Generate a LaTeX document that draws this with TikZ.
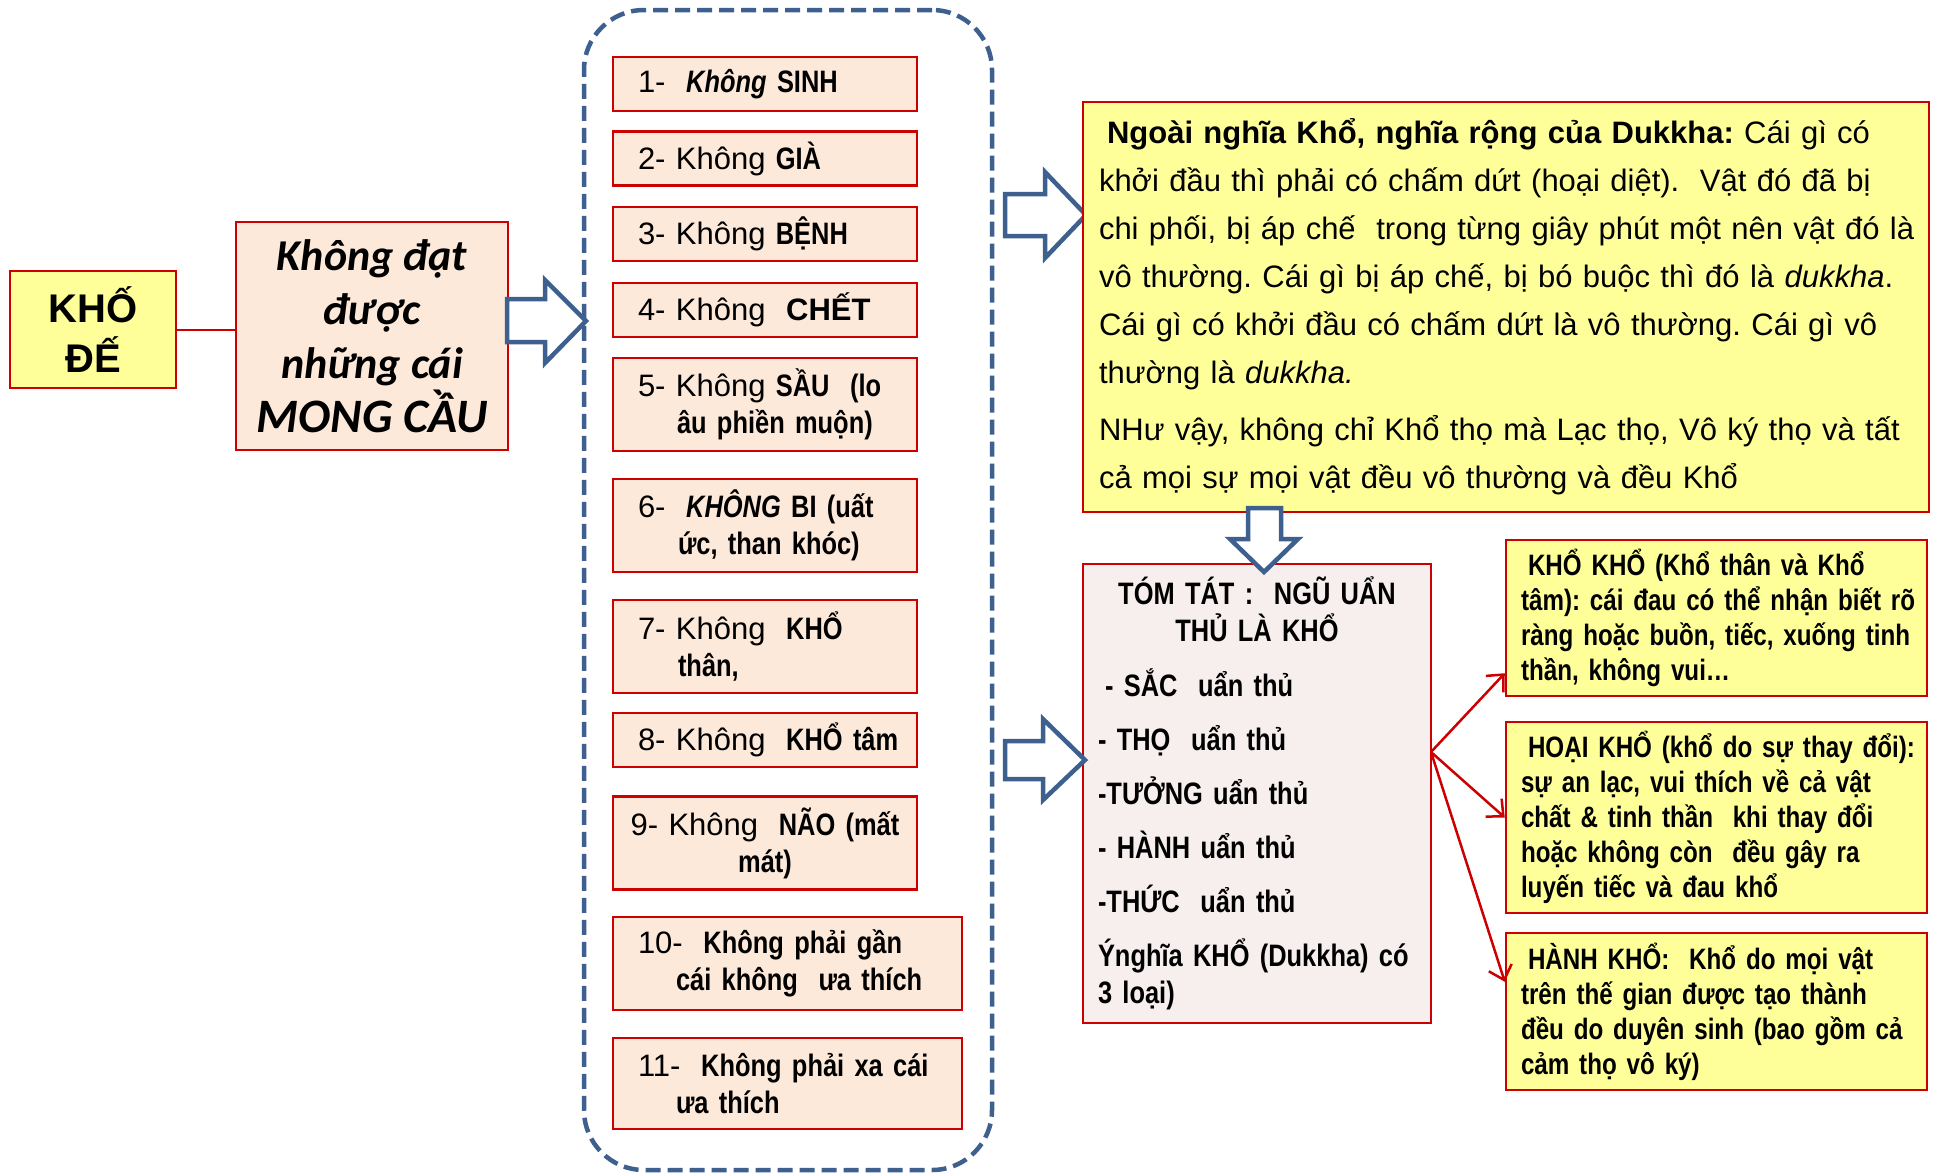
\documentclass[tikz,border=0pt]{standalone}
\usepackage{fontspec}
\setmainfont{Liberation Sans}
\newfontfamily\narrowfont{Liberation Sans}[FakeStretch=0.82]
\newfontfamily\calibrifont{Carlito}
\usetikzlibrary{arrows.meta}
\definecolor{boxred}{RGB}{204,0,0}
\definecolor{peach}{RGB}{253,233,217}
\definecolor{lightyellow}{RGB}{255,255,153}
\definecolor{lightpink}{RGB}{247,238,238}
\definecolor{arrowblue}{RGB}{62,96,143}
\newcommand{\nb}[1]{{\narrowfont\bfseries #1}}
\frenchspacing
\tikzset{
    peachbox/.style={draw=boxred, fill=peach, line width=2.5pt},
    yellowbox/.style={draw=boxred, fill=lightyellow, line width=2.5pt},
    item/.style={peachbox, inner xsep=12pt, inner ysep=0pt, text width=280pt, minimum height=54pt, align=left, font=\fontsize{31}{37}\selectfont},
    tallitem/.style={item, minimum height=93pt},
    wideitem/.style={tallitem, text width=325pt},
    kindbox/.style={yellowbox, inner xsep=9pt, inner ysep=0pt, text width=403pt, align=left, font=\narrowfont\bfseries\fontsize{29.5}{35}\selectfont},
    blockarrow/.style={draw=arrowblue, fill=white, line width=4.5pt, line join=miter},
    redarrow/.style={draw=boxred, line width=2.5pt, -{Straight Barb[length=13pt,width=24pt]}}
}
\begin{document}
\begin{tikzpicture}[x=1pt, y=-1pt]
            \useasboundingbox (0,0) rectangle (1941,1173);
            \fill[white] (0,0) rectangle (1941,1173);
            % left side
            \node[yellowbox, minimum width=166pt, minimum height=117pt, align=center, font=\bfseries\fontsize{40}{50}\selectfont] (khode) at (93,329.5) {KHỐ\\ĐẾ};
            \node[peachbox, minimum width=272pt, minimum height=228pt, align=center, font=\calibrifont\bfseries\itshape\fontsize{44}{54}\selectfont] (mongcau) at (372,336) {Không đạt\\được\\những cái\\{\fontsize{48}{54}\selectfont MONG CẦU}};
            \draw[boxred, line width=2pt] (khode.east) -- (khode.east -| mongcau.west);
            % list of the eleven
            \node[draw=arrowblue, line width=4.5pt, dash pattern=on 15pt off 7pt, rounded corners=60pt, minimum width=408pt, minimum height=1160pt] (frame) at (788,590) {};
            \draw[blockarrow] (507,299) -- (545,299) -- (545,280) -- (586,321) -- (545,363) -- (545,342) -- (507,342) -- cycle;
            \node[item] (sinh) at (765,84) {\hspace*{13pt}1-\ \ \nb{\itshape Không} \nb{SINH}};
            \node[item] (gia) at (765,158.5) {\hspace*{13pt}2- Không \nb{GIÀ}};
            \node[item] (benh) at (765,234) {\hspace*{13pt}3- Không \nb{BỆNH}};
            \node[item] (chet) at (765,310) {\hspace*{13pt}4- Không\ \ \textbf{CHẾT}};
            \node[tallitem] (sau) at (765,404.5) {\hspace*{13pt}5- Không \nb{SẦU\ \ (lo}\\\hspace*{52pt}\nb{âu phiền muộn)}};
            \node[tallitem] (bi) at (765,525.5) {\hspace*{13pt}6-\ \ \nb{\itshape KHÔNG} \nb{BI (uất}\\\hspace*{53pt}\nb{ức, than khóc)}};
            \node[tallitem] (khothan) at (765,646.5) {\hspace*{13pt}7- Không\ \ \nb{KHỔ}\\\hspace*{53pt}\nb{thân,}};
            \node[item] (khotam) at (765,740) {\hspace*{13pt}8- Không\ \ \nb{KHỔ tâm}};
            \node[tallitem, align=center] (nao) at (765,843) {9- Không\ \ \nb{NÃO (mất}\\\nb{mát)}};
            \node[wideitem] (gan) at (787.5,963.5) {\hspace*{13pt}10-\ \ \nb{Không phải gần}\\\hspace*{51pt}\nb{cái không\ \ ưa thích}};
            \node[wideitem, minimum height=91pt] (xa) at (787.5,1083.5) {\hspace*{13pt}11-\ \ \nb{Không phải xa cái}\\\hspace*{51pt}\nb{ưa thích}};
            % right side
            \draw[blockarrow] (1005,194) -- (1045,194) -- (1045,172) -- (1086,215) -- (1045,258) -- (1045,236) -- (1005,236) -- cycle;
            \node[yellowbox, inner xsep=8pt, inner ysep=0pt, text width=830pt, minimum height=410pt, align=left, font=\fontsize{31}{48}\selectfont] (dukkha) at (1506,307) {\hspace*{16pt}\textbf{Ngoài nghĩa Khổ, nghĩa rộng của Dukkha:} Cái gì có\\
                \hspace*{8pt}khởi đầu thì phải có chấm dứt (hoại diệt).\ \ Vật đó đã bị\\
                \hspace*{8pt}chi phối, bị áp chế\ \ trong từng giây phút một nên vật đó là\\
                \hspace*{8pt}vô thường. Cái gì bị áp chế, bị bó buộc thì đó là \textit{dukkha}.\\
                \hspace*{8pt}Cái gì có khởi đầu có chấm dứt là vô thường. Cái gì vô\\
                \hspace*{8pt}thường là \textit{dukkha.}\\[9pt]
                \hspace*{8pt}NHư vậy, không chỉ Khổ thọ mà Lạc thọ, Vô ký thọ và tất\\
                \hspace*{8pt}cả mọi sự mọi vật đều vô thường và đều Khổ};
            \node[draw=boxred, fill=lightpink, line width=2.5pt, inner xsep=15pt, inner ysep=0pt, text width=318pt, minimum height=459pt, align=left, font=\narrowfont\bfseries\fontsize{31}{37}\selectfont] (tomtat) at (1257,793.5) {\makebox[318pt][c]{TÓM TÁT :\ \ NGŨ UẨN}\\
                \makebox[318pt][c]{THỦ LÀ KHỔ}\\[18pt]
                \hspace*{7pt}- SẮC\ \ uẩn thủ\\[17pt]
                - THỌ\ \ uẩn thủ\\[17pt]
                -TƯỞNG uẩn thủ\\[17pt]
                - HÀNH uẩn thủ\\[17pt]
                -THỨC\ \ uẩn thủ\\[17pt]
                Ýnghĩa KHỔ (Dukkha) có\\
                3 loại)};
            \draw[blockarrow] (1248,508) -- (1281,508) -- (1281,539) -- (1298,539) -- (1264,572) -- (1230,539) -- (1248,539) -- cycle;
            \draw[blockarrow] (1005,741) -- (1043,741) -- (1043,719) -- (1085,760) -- (1043,800) -- (1043,779) -- (1005,779) -- cycle;
            \node[kindbox, minimum height=156pt] (khokho) at (1716.5,618) {\hspace*{13pt}KHỔ KHỔ (Khổ thân và Khổ\\\hspace*{6pt}tâm): cái đau có thể nhận biết rõ\\\hspace*{6pt}ràng hoặc buồn, tiếc, xuống tinh\\\hspace*{6pt}thần, không vui…};
            \node[kindbox, minimum height=191pt] (hoaikho) at (1716.5,817.5) {\hspace*{13pt}HOẠI KHỔ (khổ do sự thay đổi):\\\hspace*{6pt}sự an lạc, vui thích về cả vật\\\hspace*{6pt}chất \& tinh thần\ \ khi thay đổi\\\hspace*{6pt}hoặc không còn\ \ đều gây ra\\\hspace*{6pt}luyến tiếc và đau khổ};
            \node[kindbox, minimum height=157pt] (hanhkho) at (1716.5,1011.5) {\hspace*{13pt}HÀNH KHỔ:\ \ Khổ do mọi vật\\\hspace*{6pt}trên thế gian được tạo thành\\\hspace*{6pt}đều do duyên sinh (bao gồm cả\\\hspace*{6pt}cảm thọ vô ký)};
            \coordinate (fork) at (1431,752);
            \draw[redarrow] (fork) -- ([yshift=24pt]khokho.south west);
            \draw[redarrow] (fork) -- (hoaikho.west);
            \draw[redarrow] (fork) -- ([yshift=-50pt]hanhkho.north west);
        \end{tikzpicture}
\end{document}
